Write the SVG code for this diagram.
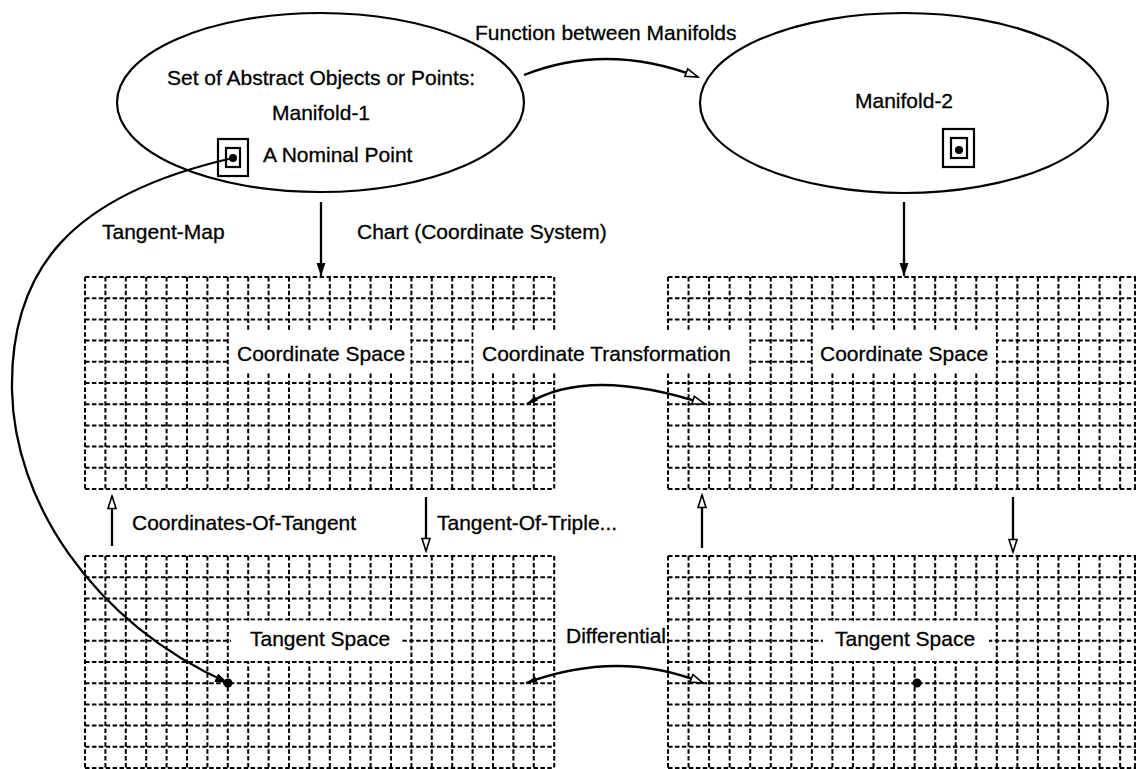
<svg xmlns="http://www.w3.org/2000/svg" xmlns:xlink="http://www.w3.org/1999/xlink" width="1136" height="769" viewBox="0 0 1136 769">
  <style>
    .lbl { font-family: "Liberation Sans", Arial, Helvetica, sans-serif; font-size: 21px; fill: #000; stroke: #000; stroke-width: 0.3; }
    .grid { fill: none; stroke: #000; stroke-width: 2; stroke-dasharray: 4.5 2.4; }
    .outline { fill: none; stroke: #000; stroke-width: 2.2; }
    .conn { fill: none; stroke: #000; stroke-width: 2.3; }
    .mask { fill: #fff; stroke: none; }
  </style>
  <defs>
    <!-- 23 x 10 cell dashed grid, 20.4 x 21.2 per cell -->
    <path id="gridLines" class="grid" d="M0,0V212 M20.4,0V212 M40.8,0V212 M61.2,0V212 M81.6,0V212 M102,0V212 M122.4,0V212 M142.8,0V212 M163.2,0V212 M183.6,0V212 M204,0V212 M224.4,0V212 M244.8,0V212 M265.2,0V212 M285.6,0V212 M306,0V212 M326.4,0V212 M346.8,0V212 M367.2,0V212 M387.6,0V212 M408,0V212 M428.4,0V212 M448.8,0V212 M469.2,0V212 M0,0H469.2 M0,21.2H469.2 M0,42.4H469.2 M0,63.6H469.2 M0,84.8H469.2 M0,106H469.2 M0,127.2H469.2 M0,148.4H469.2 M0,169.6H469.2 M0,190.8H469.2 M0,212H469.2"/>
    <marker id="headSolid" markerWidth="14" markerHeight="10" refX="13" refY="5" orient="auto" markerUnits="userSpaceOnUse">
      <path d="M0,0.5 L13,5 L0,9.5 Z" fill="#000"/>
    </marker>
    <marker id="headOpen" markerWidth="16" markerHeight="12" refX="14" refY="6" orient="auto" markerUnits="userSpaceOnUse">
      <path d="M1.5,2 L14,6 L1.5,10 Z" fill="#fff" stroke="#000" stroke-width="1.6"/>
    </marker>
    <marker id="tailTip" markerWidth="12" markerHeight="7" refX="11" refY="3.5" orient="auto-start-reverse" markerUnits="userSpaceOnUse">
      <path d="M0,0.5 L11,3.5 L0,6.5 Z" fill="#000"/>
    </marker>
  </defs>

  <!-- Manifold 1 -->
  <g id="manifold-1">
    <ellipse class="outline" cx="320.5" cy="102.5" rx="203.5" ry="89.5"/>
    <text class="lbl" x="167" y="85">Set of Abstract Objects or Points:</text>
    <text class="lbl" x="272" y="120">Manifold-1</text>
    <rect class="outline" x="218" y="139" width="30" height="37"/>
    <rect class="outline" x="226" y="148" width="14" height="19"/>
    <circle cx="233" cy="158" r="4" fill="#000"/>
    <text class="lbl" x="263" y="162">A Nominal Point</text>
  </g>

  <!-- Manifold 2 -->
  <g id="manifold-2">
    <ellipse class="outline" cx="904" cy="103" rx="204" ry="90"/>
    <text class="lbl" x="855" y="108">Manifold-2</text>
    <rect class="outline" x="943" y="129" width="31" height="38"/>
    <rect class="outline" x="951" y="138" width="16" height="20"/>
    <circle cx="959" cy="150" r="4" fill="#000"/>
  </g>

  <!-- Coordinate space of manifold 1 -->
  <g id="coordinate-space-1">
    <use xlink:href="#gridLines" transform="translate(85,277)"/>
    <rect class="mask" x="229" y="332" width="181.3" height="40.5"/>
    <text class="lbl" x="237" y="361">Coordinate Space</text>
  </g>

  <!-- Coordinate space of manifold 2 -->
  <g id="coordinate-space-2">
    <use xlink:href="#gridLines" transform="translate(668,277) scale(1.0074,1)"/>
    <path class="grid" d="M1135,277V489"/>
    <rect class="mask" x="812.8" y="332" width="183.1" height="40.5"/>
    <text class="lbl" x="820" y="361">Coordinate Space</text>
  </g>

  <!-- Tangent space of manifold 1 -->
  <g id="tangent-space-1">
    <use xlink:href="#gridLines" transform="translate(85,556)"/>
    <rect class="mask" x="231" y="620.6" width="171" height="40.4"/>
    <text class="lbl" x="250" y="646">Tangent Space</text>
  </g>

  <!-- Tangent space of manifold 2 -->
  <g id="tangent-space-2">
    <use xlink:href="#gridLines" transform="translate(668,556) scale(1.0074,1)"/>
    <path class="grid" d="M1135,556V768"/>
    <rect class="mask" x="823" y="620.6" width="166" height="40.4"/>
    <text class="lbl" x="835" y="646">Tangent Space</text>
    <circle cx="917" cy="683" r="4.5" fill="#000"/>
  </g>

  <!-- Connectors -->
  <g id="connectors">
    <!-- function between manifolds -->
    <path class="conn" d="M524,75 Q607,42 698,77" stroke-width="2" marker-end="url(#headOpen)"/>
    <!-- charts -->
    <path class="conn" d="M321,202 V276" marker-end="url(#headSolid)"/>
    <path class="conn" d="M904,202 V276" marker-end="url(#headSolid)"/>
    <!-- coordinate transformation -->
    <path class="conn" d="M527,404 Q588,366 705,404" marker-start="url(#tailTip)" marker-end="url(#headOpen)"/>
    <!-- coordinates-of-tangent / tangent-of-triple -->
    <path class="conn" d="M112,546 V496" marker-end="url(#headOpen)"/>
    <path class="conn" d="M426,497 V551" marker-end="url(#headOpen)"/>
    <path class="conn" d="M702,548 V495" marker-end="url(#headOpen)"/>
    <path class="conn" d="M1013,497 V552" marker-end="url(#headOpen)"/>
    <!-- differential -->
    <path class="conn" d="M526,683 Q619,649 703,683" marker-start="url(#tailTip)" marker-end="url(#headOpen)"/>
    <!-- tangent map -->
    <path class="conn" d="M233,158 C70,195 10,270 12,390 C14,500 90,620 228,683" marker-end="url(#headSolid)"/>
    <circle cx="228" cy="683" r="4.5" fill="#000"/>
  </g>

  <!-- Connector labels -->
  <g id="connector-labels">
    <text class="lbl" x="475" y="40">Function between Manifolds</text>
    <text class="lbl" x="102" y="239">Tangent-Map</text>
    <text class="lbl" x="357" y="239">Chart (Coordinate System)</text>
    <rect class="mask" x="473.5" y="332" width="275.8" height="40.5"/>
    <text class="lbl" x="482" y="361">Coordinate Transformation</text>
    <text class="lbl" x="132" y="530">Coordinates-Of-Tangent</text>
    <text class="lbl" x="437" y="530">Tangent-Of-Triple...</text>
    <text class="lbl" x="566" y="643">Differential</text>
  </g>
</svg>
